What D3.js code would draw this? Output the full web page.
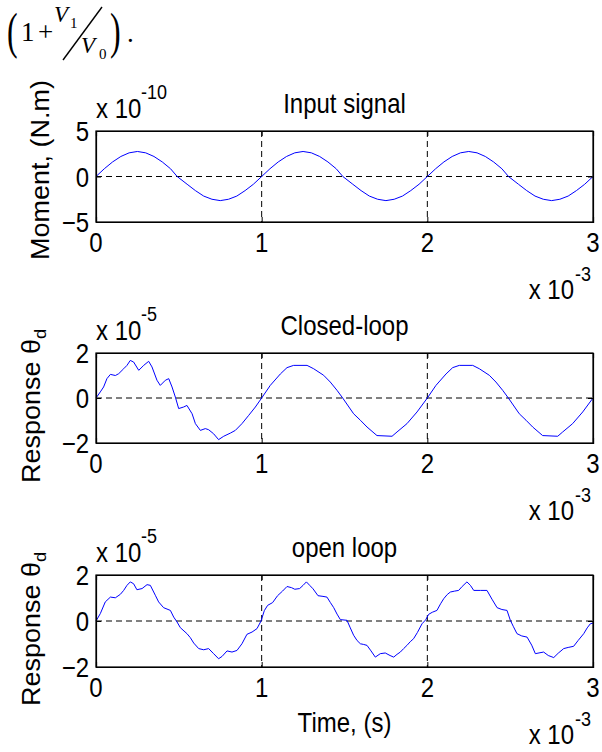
<!DOCTYPE html>
<html>
<head>
<meta charset="utf-8">
<script src="https://cdn.jsdelivr.net/npm/d3@7/dist/d3.min.js"></script>
<style>
  body { margin: 0; background: #fff; }
  svg { display: block; font-family: "Liberation Sans", Arial, sans-serif; }
</style>
</head>
<body>
<svg id="chart" width="602" height="752"></svg>
<script>
// time in ms (axis shows x 10^-3 s), values in the panel's exponent units
const inputSignal = [
  [0,0],[0.05,0.85],[0.1,1.6],[0.15,2.2],[0.2,2.6],[0.25,2.75],[0.3,2.6],[0.35,2.2],[0.4,1.6],[0.45,0.85],
  [0.49,0],[0.55,-0.85],[0.6,-1.55],[0.65,-2.15],[0.7,-2.5],[0.75,-2.65],[0.8,-2.5],[0.85,-2.15],[0.9,-1.55],[0.95,-0.85],
  [1.0,0],[1.05,0.85],[1.1,1.6],[1.15,2.2],[1.2,2.6],[1.25,2.75],[1.3,2.6],[1.35,2.2],[1.4,1.6],[1.45,0.85],
  [1.49,0],[1.55,-0.85],[1.6,-1.55],[1.65,-2.15],[1.7,-2.5],[1.75,-2.65],[1.8,-2.5],[1.85,-2.15],[1.9,-1.55],[1.95,-0.85],
  [2.0,0],[2.05,0.85],[2.1,1.6],[2.15,2.2],[2.2,2.6],[2.25,2.75],[2.3,2.6],[2.35,2.2],[2.4,1.6],[2.45,0.85],
  [2.49,0],[2.55,-0.85],[2.6,-1.55],[2.65,-2.15],[2.7,-2.5],[2.75,-2.65],[2.8,-2.5],[2.85,-2.15],[2.9,-1.55],[2.95,-0.85],
  [3.0,0]
];

const closedLoop = [
  [0,0],[0.026,0.27],[0.046,0.49],[0.066,0.86],[0.087,1.05],[0.117,1.0],[0.137,1.08],[0.167,1.3],[0.187,1.45],
  [0.207,1.67],[0.227,1.6],[0.258,1.23],[0.288,1.45],[0.318,1.63],[0.338,1.38],[0.368,0.79],[0.388,0.56],
  [0.419,0.79],[0.439,0.86],[0.459,0.49],[0.479,0.04],[0.499,-0.47],[0.529,-0.4],[0.549,-0.33],[0.58,-0.7],
  [0.6,-1.14],[0.63,-1.44],[0.66,-1.36],[0.68,-1.41],[0.71,-1.59],[0.74,-1.85],[0.771,-1.7],[0.811,-1.56],
  [0.841,-1.44],[0.881,-1.14],[0.922,-0.77],[0.962,-0.4],[1.0,0],
  [1.052,0.56],[1.113,1.07],[1.153,1.35],[1.193,1.45],[1.274,1.45],[1.314,1.3],[1.374,1.01],[1.414,0.71],
  [1.455,0.34],[1.489,0],[1.555,-0.7],[1.596,-0.99],[1.636,-1.29],[1.696,-1.67],[1.787,-1.7],[1.817,-1.51],
  [1.877,-1.14],[1.938,-0.62],[2.0,0],
  [2.052,0.56],[2.113,1.07],[2.153,1.35],[2.193,1.45],[2.274,1.45],[2.314,1.3],[2.374,1.01],[2.414,0.71],
  [2.455,0.34],[2.489,0],[2.555,-0.7],[2.596,-0.99],[2.636,-1.29],[2.696,-1.67],[2.787,-1.7],[2.817,-1.51],
  [2.877,-1.14],[2.938,-0.62],[3.0,0]
];

const openLoop = [
  [0,0],[0.026,0.32],[0.056,0.83],[0.087,1.04],[0.117,1.01],[0.147,1.16],[0.167,1.33],[0.187,1.55],[0.207,1.7],
  [0.227,1.62],[0.247,1.36],[0.278,1.41],[0.308,1.58],[0.328,1.55],[0.358,1.12],[0.378,0.83],[0.408,0.58],
  [0.449,0.46],[0.469,0.17],[0.489,-0.04],[0.509,-0.29],[0.549,-0.55],[0.569,-0.72],[0.59,-0.96],[0.62,-1.2],
  [0.65,-1.25],[0.68,-1.2],[0.71,-1.42],[0.74,-1.64],[0.761,-1.54],[0.791,-1.3],[0.821,-1.35],[0.851,-1.28],
  [0.881,-0.99],[0.911,-0.58],[0.942,-0.48],[0.972,-0.33],[0.996,0],
  [1.016,0.45],[1.036,0.68],[1.066,0.8],[1.096,1.1],[1.126,1.3],[1.153,1.5],[1.18,1.45],[1.2,1.38],[1.229,1.41],
  [1.25,1.55],[1.27,1.7],[1.29,1.55],[1.31,1.4],[1.34,1.1],[1.37,1.07],[1.394,1.04],[1.415,0.8],[1.435,0.58],
  [1.455,0.3],[1.475,0.06],[1.515,0.03],[1.535,-0.3],[1.555,-0.62],[1.576,-0.85],[1.596,-0.99],[1.616,-1.02],
  [1.636,-1.06],[1.66,-1.3],[1.686,-1.57],[1.716,-1.42],[1.746,-1.39],[1.775,-1.5],[1.797,-1.57],[1.817,-1.45],
  [1.837,-1.35],[1.857,-1.2],[1.877,-1.06],[1.897,-0.9],[1.917,-0.77],[1.94,-0.5],[1.968,-0.12],[1.99,0.05],
  [2.008,0.29],[2.03,0.38],[2.058,0.46],[2.08,0.75],[2.099,0.97],[2.12,1.15],[2.139,1.26],[2.165,1.3],[2.189,1.33],
  [2.21,1.5],[2.239,1.7],[2.26,1.55],[2.28,1.33],[2.32,1.33],[2.36,1.33],[2.39,0.95],[2.421,0.58],[2.45,0.5],
  [2.481,0.46],[2.501,0.03],[2.52,-0.25],[2.541,-0.55],[2.57,-0.65],[2.602,-0.7],[2.63,-1.05],[2.652,-1.42],
  [2.68,-1.38],[2.702,-1.35],[2.73,-1.5],[2.763,-1.59],[2.79,-1.4],[2.823,-1.2],[2.85,-1.15],[2.883,-1.1],
  [2.91,-0.85],[2.944,-0.55],[2.965,-0.3],[2.984,-0.12],[3.0,-0.09]
];

const titles = ["Input signal", "Closed-loop", "open loop"];
const xTicks = [0, 1, 2, 3];
const yTicksInput = [-5, 0, 5];
const yTicksResponse = [-2, 0, 2];

const svg = d3.select("#chart");
const left = 96, right = 593;
const fontSize = 24;
const stretch = 1.15;   // the source picture is a bit taller than wide

// sans text, stretched vertically like the reference
function label(parent, x, y, str, anchor, size) {
  return parent.append("text")
    .attr("transform", `translate(${x},${y}) scale(1,${stretch})`)
    .attr("text-anchor", anchor || "start")
    .attr("font-size", size || fontSize)
    .attr("fill", "#000")
    .text(str);
}

// formula fragment at the top of the page
const f = svg.append("g").attr("font-family", "'Liberation Serif', 'Times New Roman', serif").attr("fill", "#000");
f.append("text").attr("transform", "translate(7,48) scale(1,1.56)").attr("font-size", 32).text("(");
f.append("text").attr("x", 21).attr("y", 41).attr("font-size", 27).text("1");
f.append("text").attr("x", 38).attr("y", 41).attr("font-size", 27).text("+");
f.append("text").attr("x", 54).attr("y", 22).attr("font-size", 23).attr("font-style", "italic").text("V");
f.append("text").attr("x", 70).attr("y", 28).attr("font-size", 15).text("1");
f.append("line").attr("x1", 63).attr("y1", 60).attr("x2", 102).attr("y2", 7).attr("stroke", "#000").attr("stroke-width", 1.4);
f.append("text").attr("x", 81).attr("y", 53).attr("font-size", 23).attr("font-style", "italic").text("V");
f.append("text").attr("x", 99).attr("y", 59).attr("font-size", 15).text("0");
f.append("text").attr("transform", "translate(110,48) scale(1,1.56)").attr("font-size", 32).text(")");
f.append("text").attr("x", 127).attr("y", 42).attr("font-size", 27).text(".");

const panels = [
  { data: inputSignal, title: titles[0], top: 131, bottom: 222, domain: [-5, 5], ticks: yTicksInput, exp: "-10",
    label: "Moment, (N.m)", sub: null, labelX: 49, labelY: 170 },
  { data: closedLoop, title: titles[1], top: 353, bottom: 443, domain: [-2, 2], ticks: yTicksResponse, exp: "-5",
    label: "Response θ", sub: "d", labelX: 40, labelY: 406 },
  { data: openLoop, title: titles[2], top: 575, bottom: 667, domain: [-2, 2], ticks: yTicksResponse, exp: "-5",
    label: "Response θ", sub: "d", labelX: 40, labelY: 629 }
];

const x = d3.scaleLinear().domain([0, 3]).range([left, right]);

panels.forEach((p, i) => {
  const y = d3.scaleLinear().domain(p.domain).range([p.bottom, p.top]);
  const g = svg.append("g");

  // dashed grid
  g.selectAll(".gx").data(xTicks.slice(1, -1)).join("line")
    .attr("x1", d => x(d)).attr("x2", d => x(d))
    .attr("y1", p.top).attr("y2", p.bottom)
    .attr("stroke", "#000").attr("stroke-width", 1).attr("stroke-dasharray", "6,4");
  g.selectAll(".gy").data(p.ticks.slice(1, -1)).join("line")
    .attr("x1", left).attr("x2", right)
    .attr("y1", d => y(d)).attr("y2", d => y(d))
    .attr("stroke", "#000").attr("stroke-width", 1).attr("stroke-dasharray", "6,4");

  // signal
  const line = d3.line().x(d => x(d[0])).y(d => y(d[1]));
  g.append("path").datum(p.data)
    .attr("d", line).attr("fill", "none").attr("stroke", "#0000ff").attr("stroke-width", 1);

  // axes with inward ticks, labels drawn separately
  g.append("g").attr("transform", `translate(0,${p.bottom})`)
    .call(d3.axisBottom(x).tickValues(xTicks).tickSize(-5).tickFormat(""));
  g.append("g").attr("transform", `translate(0,${p.top})`)
    .call(d3.axisTop(x).tickValues(xTicks).tickSize(-5).tickFormat(""));
  g.append("g").attr("transform", `translate(${left},0)`)
    .call(d3.axisLeft(y).tickValues(p.ticks).tickSize(-5).tickFormat(""));
  g.append("g").attr("transform", `translate(${right},0)`)
    .call(d3.axisRight(y).tickValues(p.ticks).tickSize(-5).tickFormat(""));
  g.selectAll(".domain").attr("stroke", "#000").attr("stroke-width", 1.2);
  g.selectAll(".tick line").attr("stroke", "#000");

  xTicks.forEach(t => label(g, x(t), p.bottom + 30, d3.format("d")(t), "middle"));
  p.ticks.forEach(t => label(g, 89, y(t) + 10, d3.format("d")(t), "end"));

  // frame
  g.append("rect").attr("x", left).attr("y", p.top).attr("width", right - left).attr("height", p.bottom - p.top)
    .attr("fill", "none").attr("stroke", "#000").attr("stroke-width", 1.2);

  // title
  label(g, (left + right) / 2, p.top - 18, p.title, "middle");

  // y exponent
  label(g, left, p.top - 13, "x 10");
  label(g, left + 45, p.top - 32, p.exp, "start", 18);

  // x exponent
  label(g, 574, p.bottom + 77, "x 10", "end");
  label(g, 575, p.bottom + 59, "-3", "start", 18);

  // y label
  const yl = g.append("text")
    .attr("transform", `translate(${p.labelX},${p.labelY}) rotate(-90) scale(1.08,1)`)
    .attr("text-anchor", "middle").attr("font-size", fontSize + 1);
  yl.append("tspan").text(p.label);
  if (p.sub) yl.append("tspan").attr("dy", 6).attr("font-size", 17).text(p.sub);

  if (i === 2) label(g, (left + right) / 2, 732, "Time, (s)", "middle");
});
</script>
</body>
</html>
